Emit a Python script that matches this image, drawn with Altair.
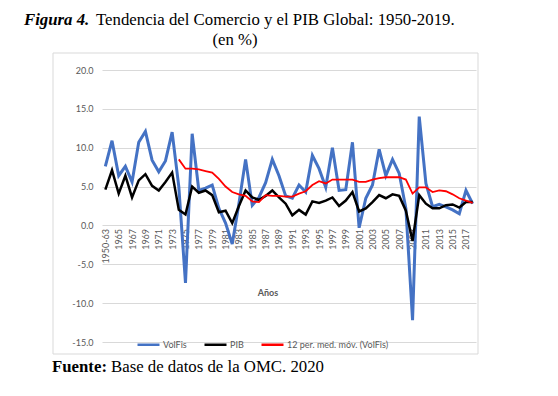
import altair as alt
import pandas as pd

categories = ["1950-63"] + [str(y) for y in range(1964, 2019)]

volfis = [7.6, 10.9, 6.4, 7.6, 5.6, 10.7, 12.1, 8.4, 6.9, 8.3,
          12.0, 5.0, -7.4, 11.8, 4.5, 4.8, 5.2, 2.2, 0.3, -2.4,
          2.8, 8.5, 2.6, 3.6, 5.5, 8.5, 6.4, 3.8, 3.5, 5.2,
          4.3, 9.0, 7.3, 4.9, 10.0, 4.5, 4.6, 10.7, -0.3, 3.5,
          5.2, 9.8, 6.4, 8.5, 6.7, 2.2, -12.2, 14.0, 5.4, 2.4,
          2.7, 2.4, 2.0, 1.5, 4.5, 2.8]

pib = [4.6, 7.1, 4.1, 6.4, 3.6, 5.8, 6.6, 5.1, 4.5, 5.6,
       6.8, 2.0, 1.4, 5.0, 4.2, 4.5, 3.9, 1.7, 1.9, 0.3,
       2.5, 4.5, 3.6, 3.3, 3.8, 4.5, 3.6, 2.8, 1.3, 2.0,
       1.4, 3.1, 2.9, 3.2, 3.6, 2.5, 3.2, 4.3, 1.8, 2.2,
       3.0, 3.9, 3.5, 4.0, 3.8, 1.9, -2.0, 3.9, 2.8, 2.2,
       2.2, 2.6, 2.7, 2.3, 3.0, 3.0]

media_movil = [None] * 11 + [
    8.5, 7.3, 7.3, 7.2, 7.0, 6.8, 6.0, 5.0, 4.3,
    4.0, 3.8, 3.1, 3.0, 3.9, 3.8, 3.8, 3.7, 3.7, 4.1,
    4.4, 5.2, 5.7, 5.4, 5.9, 5.9, 5.9, 5.9, 5.6, 5.6,
    5.9, 6.1, 6.2, 6.2, 6.2, 5.9, 4.1, 4.9, 4.9, 4.3,
    4.5, 4.4, 4.0, 3.5, 3.2, 2.9]

series_names = ["VolFis", "PIB", "12 per. med. móv. (VolFis)"]
series_values = [volfis, pib, media_movil]
series_colors = ["#4472C4", "#000000", "#FF0000"]
series_widths = [3, 2.5, 1.8]
y_ticks = [-15, -10, -5, 0, 5, 10, 15, 20]

rows = []
for name, vals in zip(series_names, series_values):
    for cat, v in zip(categories, vals):
        rows.append({"Año": cat, "serie": name, "valor": v})
df = pd.DataFrame(rows)

W, H = 374, 272
LABEL_FONT = "Lato"
GRAY = "#595959"

x_enc = alt.X(
    "Año:O",
    sort=categories,
    scale=alt.Scale(domain=categories, padding=0.5),
    axis=alt.Axis(values=categories[::2], labelAngle=-90, offset=-116.57,
                  domain=False, ticks=False, grid=False, title=None,
                  labelFont=LABEL_FONT, labelFontSize=9, labelColor=GRAY,
                  labelPadding=3, labelOverlap=False),
)
y_enc = alt.Y(
    "valor:Q",
    scale=alt.Scale(domain=[-15, 20], nice=False, zero=False),
    axis=alt.Axis(values=y_ticks,
                  labelExpr="replace(format(datum.value, '.1f'), '\u2212', '-')",
                  grid=True, gridColor="#d9d9d9", gridWidth=1,
                  domain=False, ticks=False, title=None,
                  labelFont=LABEL_FONT, labelFontSize=9, labelColor=GRAY,
                  labelPadding=9),
)
color_enc = alt.Color(
    "serie:N",
    scale=alt.Scale(domain=series_names, range=series_colors),
    legend=alt.Legend(orient="none", legendX=34, legendY=262,
                      direction="horizontal", title=None,
                      symbolType="stroke", symbolSize=484, symbolStrokeWidth=2.5,
                      labelFont=LABEL_FONT, labelFontSize=9, labelColor=GRAY,
                      columnPadding=12, labelOffset=2),
)

lines = []
for name, w in zip(series_names, series_widths):
    lines.append(
        alt.Chart(df)
        .transform_filter(alt.datum.serie == name)
        .mark_line(strokeWidth=w)
        .encode(x=x_enc, y=y_enc, color=color_enc)
    )


def text_layer(txt, x, y, align="left", font="Liberation Serif", size=16.8,
               weight="normal", style="normal", color="#000000", baseline="alphabetic"):
    return (
        alt.Chart(pd.DataFrame({"t": [txt]}))
        .mark_text(align=align, baseline=baseline, font=font, fontSize=size,
                   fontWeight=weight, fontStyle=style, color=color)
        .encode(x=alt.value(x), y=alt.value(y), text="t:N")
    )


box = (
    alt.Chart(pd.DataFrame({"a": [0]}))
    .mark_rect(filled=False, stroke="#d9d9d9", strokeWidth=1)
    .encode(x=alt.value(-49), x2=alt.value(376), y=alt.value(-17), y2=alt.value(284))
)

texts = [
    text_layer("Figura 4.", -78, -45, weight="bold", style="italic"),
    text_layer("Tendencia del Comercio y el PIB Global: 1950-2019.", -6, -45),
    text_layer("(en %)", 133, -25, align="center"),
    text_layer("Fuente:", -50, 302, weight="bold"),
    text_layer("Base de datos de la OMC. 2020", 9, 302),
    text_layer("Años", 166, 223, align="center", font=LABEL_FONT, size=9,
               weight="bold", color=GRAY, baseline="middle"),
]

chart = alt.layer(box, *lines, *texts).properties(
    width=W,
    height=H,
    autosize=alt.AutoSizeParams(type="none"),
    padding={"left": 94, "top": 62, "right": 60, "bottom": 40},
).configure_view(stroke=None)

chart.save("out.html", embed_options={"renderer": "svg", "actions": False})
